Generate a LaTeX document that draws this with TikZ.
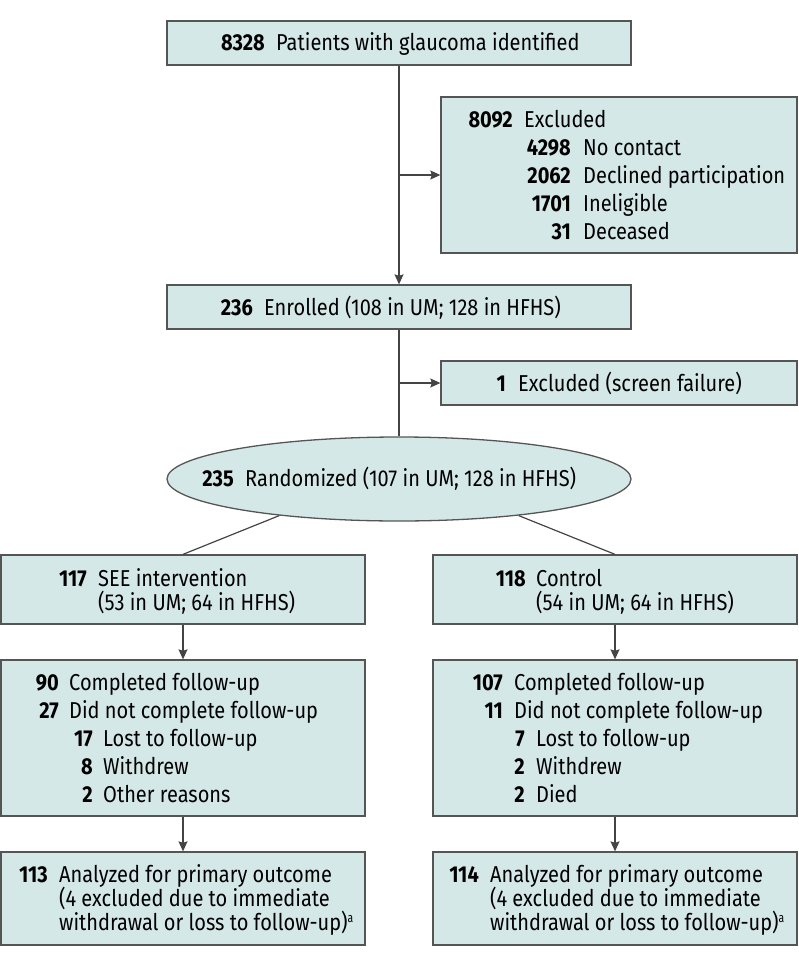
\documentclass[tikz,border=0pt]{standalone}
\usepackage{fontspec}
\setmainfont{Fira Sans}[FakeStretch=0.87]
\usetikzlibrary{arrows.meta,shapes.geometric}
\definecolor{boxfill}{HTML}{D5E8E8}
\definecolor{boxline}{HTML}{555555}
\definecolor{conn}{HTML}{444444}
\newcommand\flowentry[6]{%
  \node[numtext] (#1n) at (#2,#4) {#5};
  \node[bodytext] (#1t) at (#3,#4) {#6};}
\newcommand\flowline[4]{%
  \node[bodytext] (#1) at (#2,#3) {#4};}
\newcommand\supa{\raisebox{8pt}{\fontsize{13}{14}\selectfont\addfontfeatures{FakeStretch=0.8} a}}
\begin{document}
\begin{tikzpicture}[x=1pt,y=-1pt,
  box/.style={draw=boxline, fill=boxfill, line width=1.3pt, inner sep=0pt, rectangle},
  oval/.style={draw=boxline, fill=boxfill, line width=1.3pt, inner sep=0pt, ellipse},
  numtext/.style={anchor=base east, inner sep=0pt, font=\fontsize{23}{26}\selectfont\bfseries},
  bodytext/.style={anchor=base west, inner sep=0pt, font=\fontsize{23}{26}\selectfont},
  arr/.style={draw=conn, line width=1.2pt, -{Stealth[length=10pt,width=9pt,inset=1.5pt]}},
  plain/.style={draw=conn, line width=1.2pt}]
\useasboundingbox (0,0) rectangle (798,966);
% boxes
\node[box, minimum width=464pt, minimum height=44pt] (top) at (399,43) {};
\node[box, minimum width=356pt, minimum height=156pt] (excl) at (619,175) {};
\node[box, minimum width=464pt, minimum height=44pt] (enr) at (399,307) {};
\node[box, minimum width=356pt, minimum height=44pt] (scr) at (619,383) {};
\node[oval, minimum width=464pt, minimum height=84pt] (rand) at (399,479) {};
\node[box, minimum width=364pt, minimum height=69pt] (see) at (183,589.5) {};
\node[box, minimum width=364pt, minimum height=69pt] (ctl) at (615,589.5) {};
\node[box, minimum width=364pt, minimum height=156pt] (ful) at (183,738) {};
\node[box, minimum width=364pt, minimum height=156pt] (fur) at (615,738) {};
\node[box, minimum width=364pt, minimum height=93pt] (anl) at (183,898.5) {};
\node[box, minimum width=364pt, minimum height=93pt] (anr) at (615,898.5) {};
% connectors
\draw[arr] (top.south) -- (enr.north);
\draw[arr] (top.south |- excl.west) -- (excl.west);
\draw[plain] (enr.south) -- (rand.north);
\draw[arr] (enr.south |- scr.west) -- (scr.west);
\draw[plain] (rand.197.5) -- (see.north);
\draw[plain] (rand.-17.5) -- (ctl.north);
\draw[arr] (see.south) -- (ful.north);
\draw[arr] (ctl.south) -- (fur.north);
\draw[arr] (ful.south) -- (anl.north);
\draw[arr] (fur.south) -- (anr.north);
% texts
\flowentry{a}{265}{276}{51}{8328}{Patients with glaucoma identified}
\flowentry{b}{513}{524}{127}{8092}{Excluded}
\flowentry{b1}{571}{583}{155}{4298}{No contact}
\flowentry{b2}{571}{583}{183}{2062}{Declined participation}
\flowentry{b3}{571}{583}{211}{1701}{Ineligible}
\flowentry{b4}{571}{583}{239}{31}{Deceased}
\flowentry{c}{253}{264}{315}{236}{Enrolled (108 in UM; 128 in HFHS)}
\flowentry{d}{506}{518}{391}{1}{Excluded (screen failure)}
\flowentry{e}{234}{245}{486}{235}{Randomized (107 in UM; 128 in HFHS)}
\flowentry{f}{87}{98}{586}{117}{SEE intervention}
\flowline{f2}{98}{610}{(53 in UM; 64 in HFHS)}
\flowentry{g}{526}{536}{586}{118}{Control}
\flowline{g2}{536}{610}{(54 in UM; 64 in HFHS)}
\flowentry{h1}{59}{69}{690}{90}{Completed follow-up}
\flowentry{h2}{59}{69}{718}{27}{Did not complete follow-up}
\flowentry{h3}{93}{103}{746}{17}{Lost to follow-up}
\flowentry{h4}{93}{103}{774}{8}{Withdrew}
\flowentry{h5}{93}{103}{802}{2}{Other reasons}
\flowentry{i1}{503}{514}{690}{107}{Completed follow-up}
\flowentry{i2}{503}{514}{718}{11}{Did not complete follow-up}
\flowentry{i3}{525}{536}{746}{7}{Lost to follow-up}
\flowentry{i4}{525}{536}{774}{2}{Withdrew}
\flowentry{i5}{525}{536}{802}{2}{Died}
\flowentry{j}{48}{59}{882}{113}{Analyzed for primary outcome}
\flowline{j2}{59}{906}{(4 excluded due to immediate}
\flowline{j3}{59}{930}{withdrawal or loss to follow-up)\supa}
\flowentry{k}{479}{490}{882}{114}{Analyzed for primary outcome}
\flowline{k2}{490}{906}{(4 excluded due to immediate}
\flowline{k3}{490}{930}{withdrawal or loss to follow-up)\supa}
\end{tikzpicture}
\end{document}
